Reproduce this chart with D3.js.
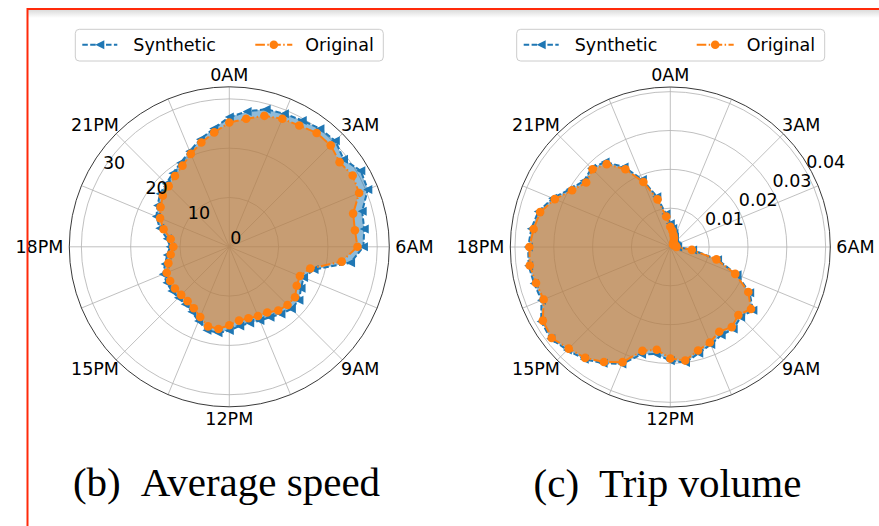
<!DOCTYPE html>
<html>
<head>
<meta charset="utf-8">
<script src="https://cdn.jsdelivr.net/npm/d3@7"></script>
<style>
  body { margin: 0; background: #fff; }
  svg { display: block; }
  .tick-label { font-family: 'DejaVu Sans', sans-serif; font-size: 17.5px; fill: #000; }
  .legend-text { font-family: 'DejaVu Sans', sans-serif; font-size: 17.5px; fill: #000; }
  .caption { font-family: 'Liberation Serif', 'Times New Roman', serif; font-size: 41px; fill: #000; }
</style>
</head>
<body>
<svg id="chart" width="879" height="526"></svg>
<script>
// hour labels every 45 degrees, 48 half-hour samples per series
const hourLabels = ['0AM', '3AM', '6AM', '9AM', '12PM', '15PM', '18PM', '21PM']

const speedOriginal = [25.2, 26.2, 27.5, 28.1, 28.4, 29.1, 29.1, 28.2, 28.9, 28.5, 26.0, 25.7,
  26.0, 23.0, 17.0, 15.5, 15.8, 16.8, 16.7, 16.3, 15.4, 15.2, 15.0, 15.1,
  15.9, 16.8, 16.7, 15.4, 14.4, 13.9, 13.8, 13.9, 13.85, 13.75, 12.8, 12.0,
  11.35, 12.0, 13.8, 15.2, 16.1, 17.0, 17.4, 18.1, 19.0, 20.4, 21.9, 23.4]
const speedSynthetic = [26.3, 27.7, 28.9, 29.2, 29.6, 30.2, 30.4, 29.2, 30.8, 30.4, 27.9, 27.6,
  27.2, 24.8, 17.8, 16.3, 16.8, 17.8, 17.8, 17.2, 16.5, 16.2, 16.0, 16.2,
  17.0, 17.6, 17.5, 16.3, 15.2, 14.7, 14.6, 14.7, 14.6, 14.5, 13.5, 12.7,
  12.0, 12.7, 14.6, 16.0, 16.8, 17.7, 18.1, 18.8, 19.7, 21.0, 22.6, 24.2]
const speedTicks = [0, 10, 20, 30]

const volumeOriginal = [0.0052, 0.0042, 0.0032, 0.0025, 0.0018, 0.0013, 0.0010, 0.0010, 0.0010, 0.0012, 0.0014, 0.0015,
  0.0016, 0.0056, 0.0123, 0.0181, 0.0232, 0.0262, 0.0248, 0.0260, 0.0252, 0.0266, 0.0276, 0.0295,
  0.0287, 0.0267, 0.0277, 0.0321, 0.0342, 0.0360, 0.0370, 0.0385, 0.0379, 0.0353, 0.0358, 0.0365,
  0.0363, 0.0355, 0.0347, 0.0322, 0.0292, 0.0273, 0.0283, 0.0269, 0.0231, 0.0181, 0.0127, 0.0079]
const volumeSynthetic = [0.0060, 0.0048, 0.0036, 0.0028, 0.0020, 0.0015, 0.0012, 0.0011, 0.0011, 0.0013, 0.0015, 0.0017,
  0.0019, 0.0058, 0.0126, 0.0186, 0.0236, 0.0268, 0.0256, 0.0266, 0.0262, 0.0272, 0.0283, 0.0300,
  0.0293, 0.0278, 0.0286, 0.0326, 0.0346, 0.0364, 0.0375, 0.0388, 0.0384, 0.0359, 0.0363, 0.0368,
  0.0366, 0.0361, 0.0352, 0.0328, 0.0298, 0.0280, 0.0287, 0.0276, 0.0238, 0.0188, 0.0134, 0.0086]
const volumeTicks = [0.01, 0.02, 0.03, 0.04]

const blue = '#1f77b4'
const orange = '#ff7f0e'

const svg = d3.select('#chart')
const R = 160
const tri = 'M-4.5,0L4.5,-4.5L4.5,4.5Z'

// red frame of the cropped figure
const defs = svg.append('defs')
const grad = defs.append('linearGradient').attr('id', 'shade').attr('x1', 0).attr('y1', 0).attr('x2', 0).attr('y2', 1)
grad.append('stop').attr('offset', '0%').attr('stop-color', '#000').attr('stop-opacity', 0.14)
grad.append('stop').attr('offset', '100%').attr('stop-color', '#000').attr('stop-opacity', 0)

function drawPolar(cfg) {
  const g = svg.append('g').attr('transform', `translate(${cfg.cx}, ${cfg.cy})`)
  const n = cfg.original.length
  const angle = d3.scaleLinear().domain([0, n]).range([0, 2 * Math.PI])
  const r = d3.scaleLinear().domain([0, cfg.rmax]).range([0, R])

  // grid: rings and spokes
  g.selectAll('.ring').data(cfg.ticks.filter(t => t > 0)).enter().append('circle')
    .attr('r', d => r(d)).attr('fill', 'none').attr('stroke', '#b0b0b0').attr('stroke-width', 0.8)
  g.selectAll('.spoke').data(d3.range(16)).enter().append('line')
    .attr('x1', 0).attr('y1', 0)
    .attr('x2', d => R * Math.sin(d * Math.PI / 8))
    .attr('y2', d => -R * Math.cos(d * Math.PI / 8))
    .attr('stroke', '#b0b0b0').attr('stroke-width', 0.8)

  const radial = (vals) => d3.lineRadial()
    .angle((d, i) => angle(i))
    .radius(d => r(d))
    .curve(d3.curveLinearClosed)(vals)

  // fills
  g.append('path').attr('d', radial(cfg.synthetic)).attr('fill', blue).attr('fill-opacity', 0.5)
  g.append('path').attr('d', radial(cfg.original)).attr('fill', orange).attr('fill-opacity', 0.5)

  // lines
  g.append('path').attr('d', radial(cfg.synthetic)).attr('fill', 'none')
    .attr('stroke', blue).attr('stroke-width', 2).attr('stroke-dasharray', '5.5,2.4')
  g.selectAll('.tri').data(cfg.synthetic).enter().append('path')
    .attr('transform', (d, i) => `translate(${r(d) * Math.sin(angle(i))}, ${-r(d) * Math.cos(angle(i))})`)
    .attr('d', tri).attr('fill', blue)

  g.append('path').attr('d', radial(cfg.original)).attr('fill', 'none')
    .attr('stroke', orange).attr('stroke-width', 2).attr('stroke-dasharray', '9.6,2.4,1.5,2.4')
  g.selectAll('.dot').data(cfg.original).enter().append('circle')
    .attr('cx', (d, i) => r(d) * Math.sin(angle(i)))
    .attr('cy', (d, i) => -r(d) * Math.cos(angle(i)))
    .attr('r', 4.3).attr('fill', orange)

  // outer spine
  g.append('circle').attr('r', R).attr('fill', 'none').attr('stroke', '#222').attr('stroke-width', 0.9)

  // angle labels
  hourLabels.forEach((lab, k) => {
    const a = k * Math.PI / 4
    const t = g.append('text').attr('class', 'tick-label')
      .attr('text-anchor', 'middle').attr('dominant-baseline', 'central').text(lab)
    const w = t.node().getComputedTextLength()
    const h = 12.5
    const p = 166
    t.attr('x', p * Math.sin(a) + Math.sin(a) * w / 2)
     .attr('y', -p * Math.cos(a) - Math.cos(a) * h / 2)
  })

  // radial labels
  const la = cfg.labelAngle * Math.PI / 180
  g.selectAll('.rlab').data(cfg.ticks).enter().append('text')
    .attr('class', 'tick-label')
    .attr('x', d => r(d) * Math.sin(la) + 1)
    .attr('y', d => -r(d) * Math.cos(la) - 2.5)
    .text(d => cfg.format(d))

  // legend
  const lg = svg.append('g').attr('transform', `translate(${cfg.legendX}, 29.3)`)
  lg.append('rect').attr('width', 308).attr('height', 31.7).attr('rx', 4)
    .attr('fill', '#fff').attr('stroke', '#cccccc').attr('stroke-width', 1)
  lg.append('line').attr('x1', 7).attr('x2', 42).attr('y1', 15.5).attr('y2', 15.5)
    .attr('stroke', blue).attr('stroke-width', 2).attr('stroke-dasharray', '5.5,2.4')
  lg.append('path').attr('transform', 'translate(24.5, 15.5)').attr('d', tri).attr('fill', blue)
  lg.append('text').attr('class', 'legend-text').attr('x', 58).attr('y', 21.5).text('Synthetic')
  lg.append('line').attr('x1', 180).attr('x2', 217).attr('y1', 15.5).attr('y2', 15.5)
    .attr('stroke', orange).attr('stroke-width', 2).attr('stroke-dasharray', '9.6,2.4,1.5,2.4')
  lg.append('circle').attr('cx', 198.5).attr('cy', 15.5).attr('r', 4.3).attr('fill', orange)
  lg.append('text').attr('class', 'legend-text').attr('x', 230).attr('y', 21.5).text('Original')

  // caption
  const cap = svg.append('text').attr('class', 'caption')
    .attr('x', cfg.captionX).attr('y', cfg.captionY).attr('text-anchor', 'middle')
  cap.append('tspan').text(cfg.captionTag)
  cap.append('tspan').attr('dx', 20).text(cfg.captionText)
}

drawPolar({
  cx: 229.3, cy: 246.8, rmax: 32.45,
  original: speedOriginal, synthetic: speedSynthetic,
  ticks: speedTicks, labelAngle: -59.4, format: d3.format('d'),
  legendX: 75.3, captionX: 226.5, captionY: 496,
  captionTag: '(b)', captionText: 'Average speed'
})

drawPolar({
  cx: 670.3, cy: 247, rmax: 0.0412,
  original: volumeOriginal, synthetic: volumeSynthetic,
  ticks: volumeTicks, labelAngle: 60.3, format: d3.format('.2f'),
  legendX: 516.7, captionX: 667.5, captionY: 497,
  captionTag: '(c)', captionText: 'Trip volume'
})

// frame drawn last so it sits over the 18PM label like in the scan
svg.append('rect').attr('x', 28).attr('y', 10).attr('width', 851).attr('height', 8).attr('fill', 'url(#shade)')
svg.append('line').attr('x1', 27).attr('y1', 9).attr('x2', 879).attr('y2', 9)
  .attr('stroke', '#ff2a0a').attr('stroke-width', 2)
svg.append('line').attr('x1', 27.5).attr('y1', 8).attr('x2', 27.5).attr('y2', 526)
  .attr('stroke', '#ff2a0a').attr('stroke-width', 2)
</script>
</body>
</html>
